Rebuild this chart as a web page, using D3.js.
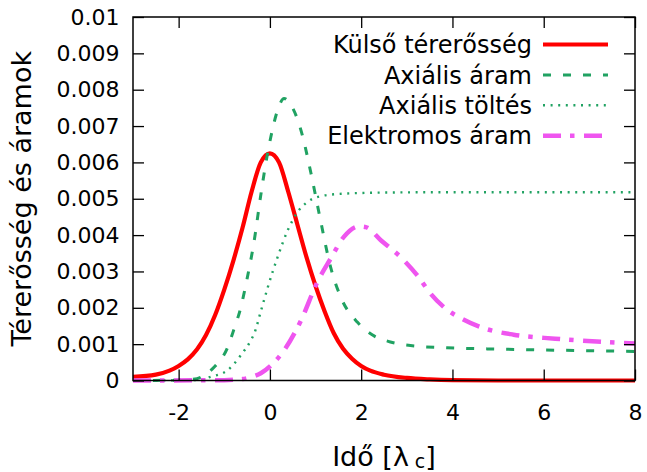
<!DOCTYPE html>
<html>
<head>
<meta charset="utf-8">
<script src="https://cdn.jsdelivr.net/npm/d3@7"></script>
<style>
  html, body { margin: 0; padding: 0; background: #fff; }
  svg { display: block; }
  text { font-family: "DejaVu Sans", sans-serif; fill: #000; }
</style>
</head>
<body>
<svg id="chart" width="647" height="472"></svg>
<script>
// ---- data ----
const xTicks = [-2, 0, 2, 4, 6, 8];
const xTickLabels = ["-2", "0", "2", "4", "6", "8"];
const yTicks = [0, 0.001, 0.002, 0.003, 0.004, 0.005, 0.006, 0.007, 0.008, 0.009, 0.01];
const yTickLabels = ["0", "0.001", "0.002", "0.003", "0.004", "0.005", "0.006", "0.007", "0.008", "0.009", "0.01"];
const seriesNames = ["Külső térerősség", "Axiális áram", "Axiális töltés", "Elektromos áram"];

const kulsoX = [-3, -2.5, -2.2, -2, -1.8, -1.6, -1.4, -1.2, -1.0, -0.8, -0.6, -0.4, -0.2, 0, 0.2, 0.4, 0.6, 0.8, 1.0, 1.2, 1.4, 1.6, 1.8, 2.0, 2.2, 2.5, 3, 3.5, 4, 5, 6, 8];
const kulsoY = [0.0001, 0.00016, 0.00027, 0.0004, 0.00058, 0.00085, 0.00125, 0.0018, 0.0025, 0.0033, 0.0042, 0.0052, 0.0060, 0.00625, 0.0060, 0.0052, 0.0043, 0.0034, 0.0026, 0.0019, 0.0013, 0.00088, 0.0006, 0.0004, 0.00027, 0.00016, 0.00007, 0.00003, 0.00001, 0, 0, 0];

const aramX = [-3, -2, -1.6, -1.5, -1.22, -0.93, -0.79, -0.64, -0.5, -0.35, -0.2, -0.1, 0.02, 0.17, 0.31, 0.45, 0.6, 0.71, 0.9, 1.11, 1.33, 1.55, 1.92, 2.25, 2.64, 3.08, 3.88, 4.76, 6, 7, 8];
const aramY = [0, 0.00001, 0.00005, 0.0001, 0.00037, 0.0009, 0.0014, 0.0020, 0.0028, 0.0038, 0.0051, 0.0059, 0.0067, 0.00744, 0.00776, 0.0076, 0.0072, 0.00675, 0.0057, 0.0044, 0.00312, 0.0023, 0.0016, 0.00125, 0.00106, 0.00096, 0.0009, 0.00087, 0.00084, 0.00082, 0.0008];

const toltesX = [-3, -1.6, -1.3, -0.93, -0.64, -0.42, -0.34, -0.2, -0.05, 0.17, 0.39, 0.61, 0.82, 1.11, 1.62, 2.5, 4, 8];
const toltesY = [0, 0.00001, 0.0001, 0.00028, 0.00069, 0.0011, 0.0013, 0.0019, 0.00255, 0.0034, 0.00413, 0.00464, 0.00491, 0.00507, 0.00514, 0.00517, 0.00518, 0.00518];

const elektX = [-3, -1, -0.6, -0.4, -0.2, 0.02, 0.31, 0.68, 1.04, 1.33, 1.62, 1.95, 2.1, 2.43, 2.86, 3.23, 3.52, 3.81, 4.25, 4.61, 5.34, 6.25, 7.16, 8];
const elektY = [0, 0.00001, 0.00004, 0.0001, 0.0002, 0.00041, 0.00083, 0.00165, 0.00271, 0.00335, 0.00395, 0.00424, 0.00422, 0.00386, 0.0034, 0.00289, 0.00239, 0.00202, 0.00167, 0.00147, 0.00126, 0.00115, 0.00107, 0.00102];

// ---- layout ----
const L = 133, R = 635, T = 17, B = 380.5;
const x = d3.scaleLinear().domain([-3, 8]).range([L, R]);
const y = d3.scaleLinear().domain([0, 0.01]).range([B, T]);

const svg = d3.select("#chart");

const series = [
  { name: seriesNames[0], xs: kulsoX, ys: kulsoY, color: "#ff0000", width: 4.2, dash: null },
  { name: seriesNames[1], xs: aramX, ys: aramY, color: "#20a262", width: 3, dash: "8,12" },
  { name: seriesNames[2], xs: toltesX, ys: toltesY, color: "#20a262", width: 2.4, dash: "2,5.6" },
  { name: seriesNames[3], xs: elektX, ys: elektY, color: "#ef55ef", width: 4.5, dash: "18,9,4.5,9.5" }
];

const line = d3.line().x(d => x(d[0])).y(d => y(d[1])).curve(d3.curveMonotoneX);

// curves (drawn first, frame on top)
const gCurves = svg.append("g");
series.forEach(s => {
  const pts = s.xs.map((v, i) => [v, s.ys[i]]);
  gCurves.append("path")
    .attr("d", line(pts))
    .attr("fill", "none")
    .attr("stroke", s.color)
    .attr("stroke-width", s.width)
    .attr("stroke-dasharray", s.dash)
    .attr("stroke-linejoin", "round");
});

// frame
svg.append("rect")
  .attr("x", L).attr("y", T).attr("width", R - L).attr("height", B - T)
  .attr("fill", "none").attr("stroke", "#000").attr("stroke-width", 1.5);

// axes with inward ticks (mirror on all sides)
const tickLen = 11;
const xAxisB = d3.axisBottom(x).tickValues(xTicks).tickSize(-tickLen).tickPadding(24).tickFormat((d, i) => xTickLabels[i]);
const xAxisT = d3.axisTop(x).tickValues(xTicks).tickSize(-tickLen).tickFormat("");
const yAxisL = d3.axisLeft(y).tickValues(yTicks).tickSize(-tickLen).tickPadding(13.5).tickFormat((d, i) => yTickLabels[i]);
const yAxisR = d3.axisRight(y).tickValues(yTicks).tickSize(-tickLen).tickFormat("");

function styleAxis(g, size) {
  g.select(".domain").remove();
  g.selectAll(".tick line").attr("stroke", "#000").attr("stroke-width", 1.3);
  g.selectAll(".tick text").attr("font-family", "DejaVu Sans").attr("font-size", size).attr("fill", "#000");
}
svg.append("g").attr("transform", `translate(0,${B})`).call(xAxisB).call(g => styleAxis(g, 22));
svg.append("g").attr("transform", `translate(0,${T})`).call(xAxisT).call(g => styleAxis(g, 22));
svg.append("g").attr("transform", `translate(${L},0)`).call(yAxisL).call(g => styleAxis(g, 22));
svg.append("g").attr("transform", `translate(${R},0)`).call(yAxisR).call(g => styleAxis(g, 22));

// axis labels
const xl = svg.append("text")
  .attr("x", (L + R) / 2).attr("y", 466)
  .attr("text-anchor", "middle").attr("font-size", 27);
xl.append("tspan").text("Idő [λ");
xl.append("tspan").attr("font-size", 19).attr("dy", 2).attr("dx", 6).text("c");
xl.append("tspan").attr("dy", -2).text("]");

svg.append("text")
  .attr("transform", `translate(31,${(T + B) / 2}) rotate(-90)`)
  .attr("text-anchor", "middle").attr("font-size", 27)
  .text("Térerősség és áramok");

// legend
const legY = [44.5, 75, 105.3, 135.7];
const legend = svg.append("g");
series.forEach((s, i) => {
  legend.append("text")
    .attr("x", 532).attr("y", legY[i] + 8.5)
    .attr("text-anchor", "end").attr("font-size", 24)
    .text(s.name);
  legend.append("line")
    .attr("x1", 543).attr("x2", 608)
    .attr("y1", legY[i]).attr("y2", legY[i])
    .attr("stroke", s.color).attr("stroke-width", s.width)
    .attr("stroke-dasharray", s.dash);
});
</script>
</body>
</html>
